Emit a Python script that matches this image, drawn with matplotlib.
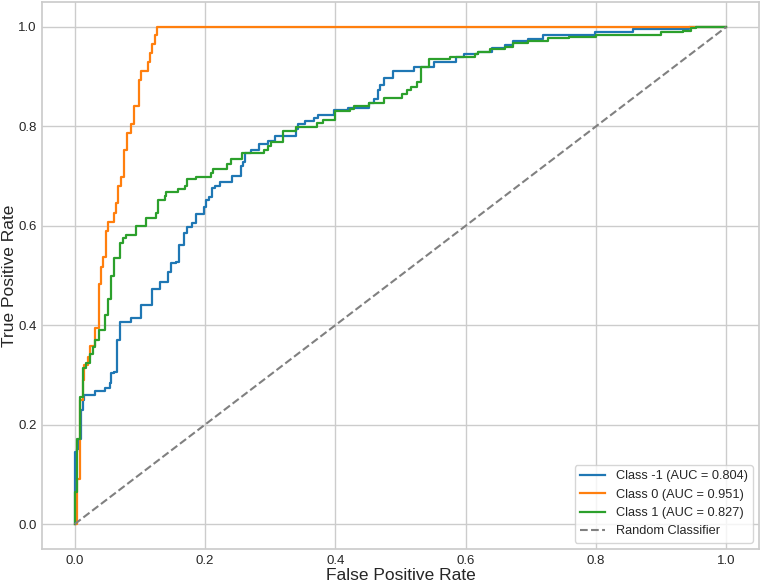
import matplotlib
matplotlib.use('Agg')
import matplotlib.pyplot as plt


# step corners of each ROC curve (fpr, tpr)
fpr_neg = [0.0, 0.0, 0.004, 0.007, 0.010, 0.013, 0.015, 0.032, 0.047, 0.054, 0.056, 0.061,
           0.065, 0.069, 0.087, 0.102, 0.119, 0.131, 0.143, 0.148, 0.156, 0.160, 0.168,
           0.173, 0.180, 0.187, 0.199, 0.202, 0.206, 0.211, 0.216, 0.223, 0.242, 0.255,
           0.258, 0.262, 0.270, 0.283, 0.296, 0.307, 0.339, 0.343, 0.354, 0.367, 0.373,
           0.398, 0.420, 0.451, 0.459, 0.465, 0.468, 0.474, 0.489, 0.521, 0.552, 0.585,
           0.598, 0.619, 0.640, 0.660, 0.673, 0.696, 0.719, 0.798, 0.856, 0.943, 0.953, 1.0]
tpr_neg = [0.0, 0.145, 0.152, 0.172, 0.229, 0.249, 0.260, 0.268, 0.273, 0.283, 0.303, 0.306,
           0.370, 0.407, 0.414, 0.441, 0.472, 0.486, 0.508, 0.525, 0.528, 0.561, 0.585,
           0.598, 0.605, 0.624, 0.637, 0.651, 0.658, 0.676, 0.679, 0.689, 0.700, 0.720,
           0.729, 0.746, 0.753, 0.765, 0.771, 0.780, 0.795, 0.805, 0.811, 0.816, 0.823,
           0.832, 0.837, 0.846, 0.854, 0.873, 0.883, 0.897, 0.911, 0.919, 0.930, 0.940,
           0.945, 0.950, 0.957, 0.964, 0.971, 0.976, 0.984, 0.989, 0.996, 0.999, 1.0, 1.0]

fpr_zero = [0.0, 0.003, 0.008, 0.013, 0.015, 0.020, 0.024, 0.032, 0.037, 0.040, 0.043,
            0.048, 0.052, 0.060, 0.063, 0.066, 0.071, 0.076, 0.080, 0.086, 0.091, 0.099,
            0.102, 0.113, 0.115, 0.118, 0.124, 0.127, 1.0]
tpr_zero = [0.0, 0.09, 0.25, 0.29, 0.320, 0.337, 0.358, 0.394, 0.483, 0.518, 0.537,
            0.590, 0.608, 0.625, 0.645, 0.679, 0.699, 0.752, 0.786, 0.804, 0.840, 0.893,
            0.911, 0.929, 0.947, 0.966, 0.984, 1.0, 1.0]

fpr_pos = [0.0, 0.0, 0.003, 0.009, 0.013, 0.018, 0.023, 0.028, 0.032, 0.037, 0.047, 0.052,
           0.056, 0.061, 0.070, 0.075, 0.079, 0.094, 0.109, 0.125, 0.128, 0.138, 0.141,
           0.159, 0.169, 0.173, 0.187, 0.210, 0.213, 0.234, 0.240, 0.257, 0.291, 0.296,
           0.301, 0.319, 0.339, 0.372, 0.381, 0.400, 0.423, 0.428, 0.451, 0.474, 0.502,
           0.510, 0.516, 0.525, 0.532, 0.544, 0.576, 0.614, 0.619, 0.637, 0.660, 0.673,
           0.696, 0.726, 0.759, 0.800, 0.900, 0.933, 0.945, 0.953, 1.0]
tpr_pos = [0.0, 0.065, 0.172, 0.256, 0.313, 0.325, 0.343, 0.357, 0.370, 0.390, 0.421, 0.452,
           0.498, 0.535, 0.565, 0.575, 0.581, 0.600, 0.615, 0.625, 0.652, 0.659, 0.667,
           0.673, 0.679, 0.694, 0.699, 0.706, 0.714, 0.724, 0.735, 0.746, 0.753, 0.761,
           0.769, 0.791, 0.799, 0.806, 0.813, 0.830, 0.835, 0.841, 0.846, 0.857, 0.865,
           0.873, 0.880, 0.890, 0.920, 0.935, 0.940, 0.945, 0.949, 0.955, 0.960, 0.967,
           0.972, 0.977, 0.980, 0.984, 0.990, 0.992, 0.998, 1.0, 1.0]

labels = ['Class -1', 'Class 0', 'Class 1']
aucs = [0.804, 0.951, 0.827]
colors = ['#1f77b4', '#ff7f0e', '#2ca02c']
ticks = [0.0, 0.2, 0.4, 0.6, 0.8, 1.0]

plt.rcParams['font.family'] = ['Liberation Sans', 'DejaVu Sans']
plt.rcParams['text.color'] = '.15'
plt.rcParams['axes.labelcolor'] = '.15'
plt.rcParams['xtick.color'] = '.15'
plt.rcParams['ytick.color'] = '.15'

fig = plt.figure(figsize=(7.62, 5.84), dpi=100)
ax = fig.add_axes([42 / 762, 1 - 549 / 584, 717 / 762, 547 / 584])

curves = [(fpr_neg, tpr_neg), (fpr_zero, tpr_zero), (fpr_pos, tpr_pos)]
for (fpr, tpr), name, auc, c in zip(curves, labels, aucs, colors):
    ax.plot(fpr, tpr, drawstyle='steps-post', color=c, lw=1.6,
            label=f'{name} (AUC = {auc:.3f})')
ax.plot([0, 1], [0, 1], ls='--', color='gray', lw=1.5, label='Random Classifier')

ax.set_xticks(ticks)
ax.set_yticks(ticks)
ax.tick_params(length=0, labelsize=9.5, pad=4)
ax.grid(True, color='.8', lw=1)
ax.set_axisbelow(True)
for s in ax.spines.values():
    s.set_color('.8')
    s.set_linewidth(1.25)
ax.set_xlabel('False Positive Rate', fontsize=12.5, labelpad=1)
ax.set_ylabel('True Positive Rate', fontsize=12.5, labelpad=1)
ax.legend(loc='lower right', fontsize=9.2, edgecolor='.8', framealpha=0.8)

fig.savefig('out.png', dpi=100)
